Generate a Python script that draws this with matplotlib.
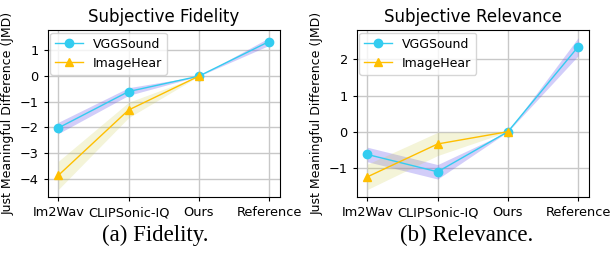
import numpy as np
import matplotlib
matplotlib.use("Agg")
import matplotlib.pyplot as plt
from matplotlib.ticker import MultipleLocator

# ----- data -----
methods = ["Im2Wav", "CLIPSonic-IQ", "Ours", "Reference"]

fid_vgg = [-2.02, -0.60, 0.0, 1.35]
fid_vgg_err = [0.22, 0.15, 0.0, 0.15]
fid_ih = [-3.87, -1.32, 0.0]
fid_ih_err = [0.55, 0.30, 0.0]

rel_vgg = [-0.63, -1.11, 0.0, 2.35]
rel_vgg_err = [0.20, 0.20, 0.0, 0.25]
rel_ih = [-1.25, -0.34, 0.0]
rel_ih_err = [0.35, 0.32, 0.0]

c_vgg = "#33ccf0"
c_vgg_band = "#6a5aee"
c_ih = "#ffbf00"
c_ih_band = "#c8c840"


def draw(ax, vgg, vgg_err, ih, ih_err, title):
    x_v = np.arange(len(vgg))
    x_i = np.arange(len(ih))
    vgg = np.array(vgg); vgg_err = np.array(vgg_err)
    ih = np.array(ih); ih_err = np.array(ih_err)
    ax.plot(x_v, vgg, "-o", color=c_vgg, lw=1.0, ms=6, label="VGGSound", zorder=3)
    ax.fill_between(x_v, vgg - vgg_err, vgg + vgg_err, color=c_vgg_band, alpha=0.3, lw=0)
    ax.plot(x_i, ih, "-^", color=c_ih, lw=1.0, ms=6, label="ImageHear", zorder=3)
    ax.fill_between(x_i, ih - ih_err, ih + ih_err, color=c_ih_band, alpha=0.2, lw=0)
    ax.set_xticks(range(len(methods)))
    ax.set_xticklabels(methods)
    ax.yaxis.set_major_locator(MultipleLocator(1))
    ax.set_title(title, fontsize=12, pad=6)
    ax.set_ylabel("Just Meaningful Difference (JMD)", fontsize=9)
    ax.grid(True, color="#c8c8c8", lw=1.0)
    ax.set_axisbelow(True)
    ax.tick_params(labelsize=9.3, length=3)
    ax.legend(loc="upper left", fontsize=9, handlelength=2.2, borderaxespad=0.2)


fig = plt.figure(figsize=(6.12, 2.57), dpi=100)
ax1 = fig.add_axes([0.078, 0.233, 0.379, 0.650])
ax2 = fig.add_axes([0.583, 0.233, 0.379, 0.650])

draw(ax1, fid_vgg, fid_vgg_err, fid_ih, fid_ih_err, "Subjective Fidelity")
draw(ax2, rel_vgg, rel_vgg_err, rel_ih, rel_ih_err, "Subjective Relevance")

fig.text(0.253, 0.085, "(a) Fidelity.", ha="center", va="center",
         family="Liberation Serif", fontsize=16.5)
fig.text(0.763, 0.085, "(b) Relevance.", ha="center", va="center",
         family="Liberation Serif", fontsize=16.5)

fig.savefig("out.png", dpi=100)
